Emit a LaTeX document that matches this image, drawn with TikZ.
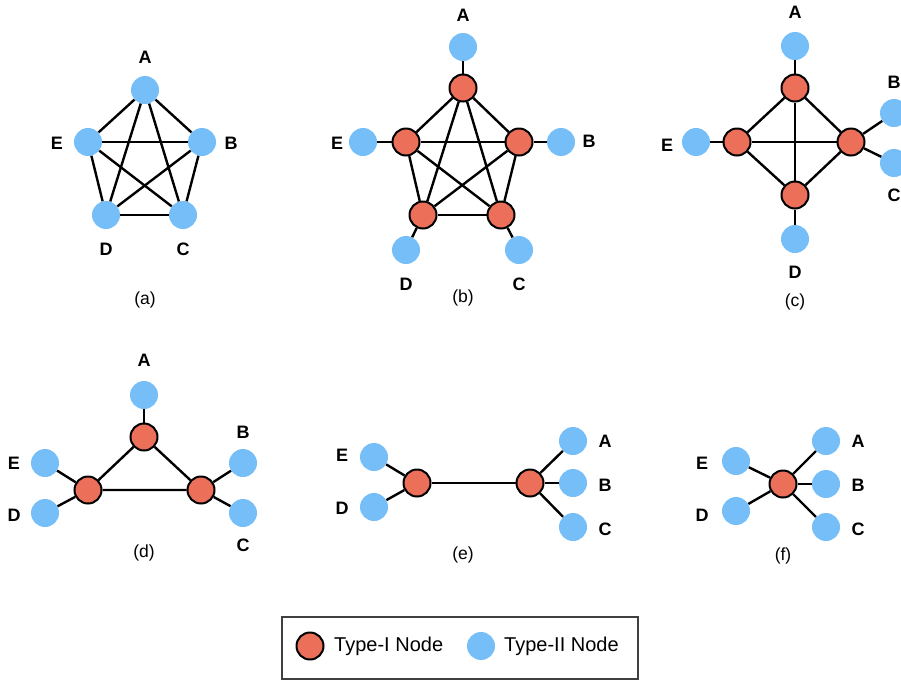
\documentclass[tikz,border=0pt]{standalone}
\usepackage{fontspec}
\setmainfont{Liberation Sans}
\definecolor{typeI}{RGB}{236,111,90}
\definecolor{typeII}{RGB}{117,190,248}

\begin{document}
\begin{tikzpicture}[x=1pt, y=-1pt,
  typeone/.style={circle, draw, fill=typeI, line width=2pt, minimum size=27pt, inner sep=0pt},
  typetwo/.style={circle, fill=typeII, minimum size=28pt, inner sep=0pt},
  lbl/.style={font=\fontsize{18}{18}\selectfont\bfseries},
  subcap/.style={font=\fontsize{17.5}{18}\selectfont},
  link/.style={line width=2.4pt}]
\useasboundingbox (0,0) rectangle (901,681);

% (a)
\path (145,90) node[typetwo] (aA) {}
      (202,142) node[typetwo] (aB) {}
      (183,215) node[typetwo] (aC) {}
      (106,215) node[typetwo] (aD) {}
      (88,142) node[typetwo] (aE) {};
\foreach \u/\v in {A/B,A/C,A/D,A/E,B/C,B/D,B/E,C/D,C/E,D/E}
  \draw[link] (a\u) -- (a\v);
\path (145,57) node[lbl] (aLA) {A}
      (231,143) node[lbl] (aLB) {B}
      (183,249) node[lbl] (aLC) {C}
      (106,249) node[lbl] (aLD) {D}
      (57,143) node[lbl] (aLE) {E};
\node[subcap] (capa) at (145,300) {(a)};

% (b)
\path (463,88) node[typeone] (bA1) {}
      (519,142) node[typeone] (bB1) {}
      (501,215) node[typeone] (bC1) {}
      (423,215) node[typeone] (bD1) {}
      (406,142) node[typeone] (bE1) {};
\path (463,47) node[typetwo] (bA2) {}
      (561,142) node[typetwo] (bB2) {}
      (519,250) node[typetwo] (bC2) {}
      (406,250) node[typetwo] (bD2) {}
      (363,142) node[typetwo] (bE2) {};
\foreach \u/\v in {A/B,A/C,A/D,A/E,B/C,B/D,B/E,C/D,C/E,D/E}
  \draw[link] (b\u1) -- (b\v1);
\foreach \u in {A,B,C,D,E}
  \draw[link] (b\u1) -- (b\u2);
\path (463,15) node[lbl] (bLA) {A}
      (589,141) node[lbl] (bLB) {B}
      (519,284) node[lbl] (bLC) {C}
      (406,284) node[lbl] (bLD) {D}
      (337,143) node[lbl] (bLE) {E};
\node[subcap] (capb) at (463,298) {(b)};

% (c)
\path (795,88) node[typeone] (cA1) {}
      (851,142) node[typeone] (cBC1) {}
      (795,195) node[typeone] (cD1) {}
      (737,142) node[typeone] (cE1) {};
\path (795,46) node[typetwo] (cA2) {}
      (894,113) node[typetwo] (cB2) {}
      (894,163) node[typetwo] (cC2) {}
      (795,239) node[typetwo] (cD2) {}
      (696,142) node[typetwo] (cE2) {};
\foreach \u/\v in {A/BC,A/D,A/E,BC/D,BC/E,D/E}
  \draw[link] (c\u1) -- (c\v1);
\draw[link] (cA1) -- (cA2);
\draw[link] (cBC1) -- (cB2);
\draw[link] (cBC1) -- (cC2);
\draw[link] (cD1) -- (cD2);
\draw[link] (cE1) -- (cE2);
\path (795,12) node[lbl] (cLA) {A}
      (894,82) node[lbl] (cLB) {B}
      (894,195) node[lbl] (cLC) {C}
      (795,272) node[lbl] (cLD) {D}
      (667,145) node[lbl] (cLE) {E};
\node[subcap] (capc) at (795,302) {(c)};

% (d)
\path (144,437) node[typeone] (dA1) {}
      (201,490) node[typeone] (dBC1) {}
      (88,490) node[typeone] (dDE1) {};
\path (144,395) node[typetwo] (dA2) {}
      (243,463) node[typetwo] (dB2) {}
      (243,513) node[typetwo] (dC2) {}
      (45,513) node[typetwo] (dD2) {}
      (45,463) node[typetwo] (dE2) {};
\draw[link] (dA1) -- (dBC1) -- (dDE1) -- (dA1);
\draw[link] (dA1) -- (dA2);
\draw[link] (dBC1) -- (dB2);
\draw[link] (dBC1) -- (dC2);
\draw[link] (dDE1) -- (dD2);
\draw[link] (dDE1) -- (dE2);
\path (144,360) node[lbl] (dLA) {A}
      (243,432) node[lbl] (dLB) {B}
      (243,545) node[lbl] (dLC) {C}
      (14,515) node[lbl] (dLD) {D}
      (14,463) node[lbl] (dLE) {E};
\node[subcap] (capd) at (144,553) {(d)};

% (e)
\path (417,483) node[typeone] (eDE1) {}
      (530,483) node[typeone] (eABC1) {};
\path (573,441) node[typetwo] (eA2) {}
      (573,483) node[typetwo] (eB2) {}
      (573,527) node[typetwo] (eC2) {}
      (374,507) node[typetwo] (eD2) {}
      (374,457) node[typetwo] (eE2) {};
\draw[link] (eDE1) -- (eABC1);
\foreach \u in {A,B,C}
  \draw[link] (eABC1) -- (e\u2);
\foreach \u in {D,E}
  \draw[link] (eDE1) -- (e\u2);
\path (605,441) node[lbl] (eLA) {A}
      (605,485) node[lbl] (eLB) {B}
      (605,529) node[lbl] (eLC) {C}
      (342,508) node[lbl] (eLD) {D}
      (342,455) node[lbl] (eLE) {E};
\node[subcap] (cape) at (463,555) {(e)};

% (f)
\path (783,484) node[typeone] (fAll1) {};
\path (826,441) node[typetwo] (fA2) {}
      (826,484) node[typetwo] (fB2) {}
      (826,527) node[typetwo] (fC2) {}
      (736,511) node[typetwo] (fD2) {}
      (736,461) node[typetwo] (fE2) {};
\foreach \u in {A,B,C,D,E}
  \draw[link] (fAll1) -- (f\u2);
\path (858,441) node[lbl] (fLA) {A}
      (858,485) node[lbl] (fLB) {B}
      (858,529) node[lbl] (fLC) {C}
      (702,515) node[lbl] (fLD) {D}
      (702,463) node[lbl] (fLE) {E};
\node[subcap] (capf) at (783,556) {(f)};

% legend
\draw[line width=1.2pt, draw=black!75] (282,617) rectangle (638,679);
\path (310,646) node[typeone] (keyI) {}
      (481,646) node[typetwo] (keyII) {};
\node[anchor=west, inner sep=0pt, font=\fontsize{20}{20}\selectfont] (keyItext) at (334,646) {Type-I Node};
\node[anchor=west, inner sep=0pt, font=\fontsize{20}{20}\selectfont] (keyIItext) at (504,646) {Type-II Node};
\end{tikzpicture}
\end{document}
